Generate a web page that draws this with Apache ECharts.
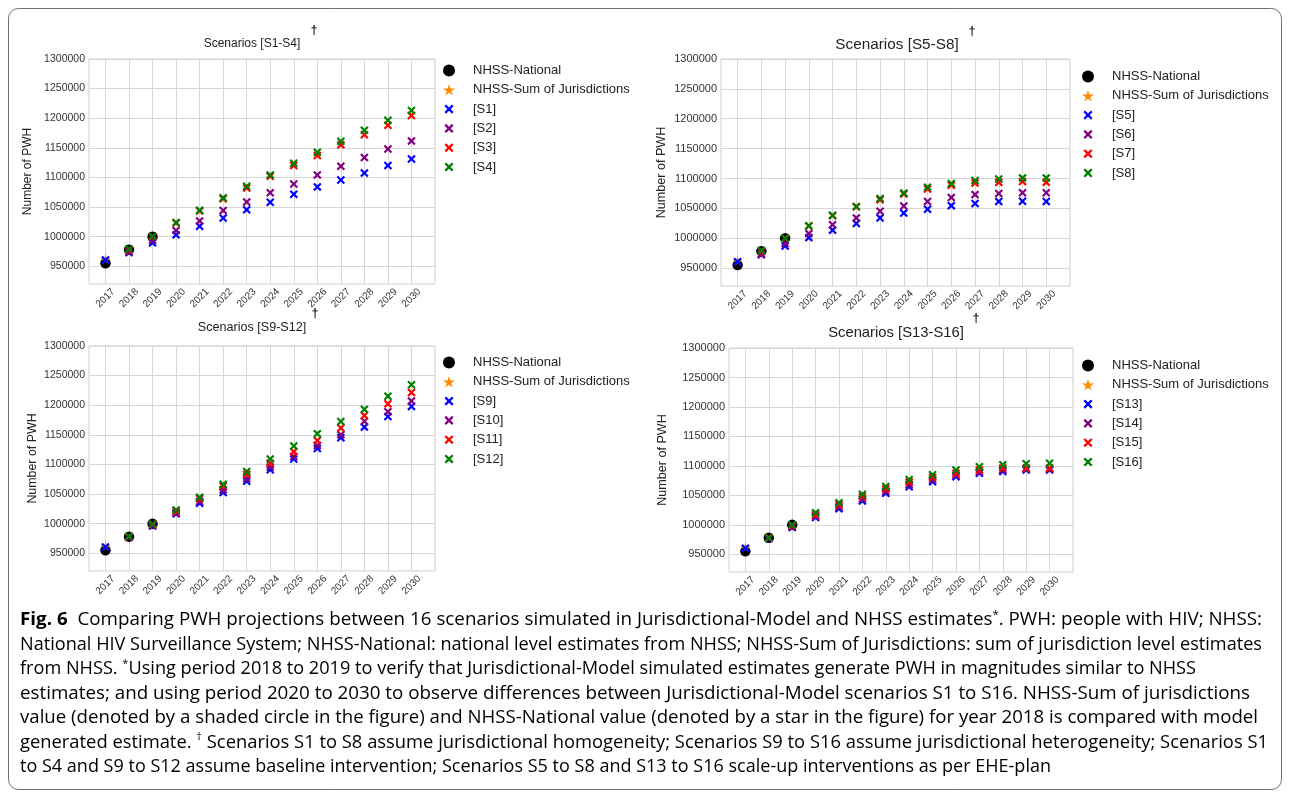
<!DOCTYPE html>
<html>
<head>
<meta charset="utf-8">
<script src="https://cdn.jsdelivr.net/npm/echarts@6/dist/echarts.min.js"></script>
<style>
  html, body { margin: 0; padding: 0; background: #fff; }
  #chart { width: 1290px; height: 797px; }
</style>
</head>
<body>
<div id="chart"></div>
<script>
// ---- data ----
const years = [2017, 2018, 2019, 2020, 2021, 2022, 2023, 2024, 2025, 2026, 2027, 2028, 2029, 2030];
const yTicks = [950000, 1000000, 1050000, 1100000, 1150000, 1200000, 1250000, 1300000];

// NHSS estimates (2017-2019 national, 2017 sum of jurisdictions)
const nhssNationalYears = [2017, 2018, 2019];
const nhssNational = [955000, 978000, 1000000];
const nhssSumYears = [2017];
const nhssSum = [962000];

// Jurisdictional-Model scenarios, 2017-2030 (null = not simulated for that year)
const s1 = [960500, 973000, 989500, 1003000, 1017500, 1031500, 1045500, 1058000, 1071500, 1084000, 1095500, 1107500, 1120000, 1131000];
const s2 = [null, 973500, 994000, 1010500, 1026500, 1044000, 1058500, 1074000, 1089000, 1104000, 1119000, 1133500, 1148000, 1161500];
const s3 = [null, 978000, 1000000, 1023000, 1043500, 1064000, 1082000, 1102000, 1120000, 1137000, 1155000, 1172000, 1188000, 1204500];
const s4 = [null, 979000, 1000500, 1024000, 1044500, 1065500, 1085000, 1104000, 1124000, 1142500, 1161000, 1179500, 1196500, 1213000];

const s5 = [960500, 972500, 987000, 1001000, 1013500, 1024500, 1034000, 1042000, 1048500, 1054500, 1058000, 1061500, 1062000, 1061500];
const s6 = [null, 973000, 991000, 1008000, 1022500, 1034000, 1045000, 1054000, 1061500, 1068000, 1073000, 1075000, 1076000, 1076000];
const s7 = [null, 978000, 999500, 1020500, 1037500, 1052500, 1064500, 1074000, 1082500, 1088500, 1092500, 1093500, 1095000, 1093500];
const s8 = [null, 979500, 1000000, 1021000, 1038500, 1053000, 1066500, 1075500, 1085500, 1091500, 1096500, 1099000, 1101000, 1101000];

const s9  = [960500, 977000, 996000, 1016500, 1034500, 1052500, 1071500, 1091000, 1109000, 1127000, 1145000, 1163000, 1181000, 1198000];
const s10 = [null, 977500, 997000, 1017500, 1037500, 1057000, 1076000, 1095500, 1113500, 1132000, 1150000, 1173000, 1189000, 1207000];
const s11 = [null, 978000, 999000, 1020500, 1042500, 1063500, 1083000, 1102000, 1121500, 1140500, 1161500, 1182500, 1202500, 1221500];
const s12 = [null, 978500, 999500, 1023000, 1044500, 1066500, 1088000, 1109000, 1131000, 1152000, 1172500, 1193000, 1215000, 1234500];

const s13 = [960500, 977000, 995500, 1012500, 1027500, 1040500, 1053500, 1064500, 1073000, 1081500, 1087500, 1090500, 1093000, 1093000];
const s14 = [null, 977500, 996500, 1014500, 1030500, 1044000, 1057000, 1068500, 1076500, 1084000, 1089500, 1093000, 1094500, 1094500];
const s15 = [null, 978000, 999000, 1017000, 1034000, 1048000, 1061000, 1072500, 1080500, 1087500, 1093000, 1096500, 1096500, 1096500];
const s16 = [null, 978000, 1000000, 1020500, 1037500, 1052000, 1065000, 1077000, 1085000, 1093000, 1098500, 1102000, 1103500, 1104500];

const panelTitles = ['Scenarios [S1-S4]', 'Scenarios [S5-S8]', 'Scenarios [S9-S12]', 'Scenarios [S13-S16]'];
const scenarioNames = [
  ['[S1]', '[S2]', '[S3]', '[S4]'],
  ['[S5]', '[S6]', '[S7]', '[S8]'],
  ['[S9]', '[S10]', '[S11]', '[S12]'],
  ['[S13]', '[S14]', '[S15]', '[S16]']
];
const scenarioValues = [[s1, s2, s3, s4], [s5, s6, s7, s8], [s9, s10, s11, s12], [s13, s14, s15, s16]];

const captionLines = [
  [['b', 'Fig. 6'], ['r', '  Comparing PWH projections between 16 scenarios simulated in Jurisdictional-Model and NHSS estimates'], ['s', '*'], ['r', '. PWH: people with HIV; NHSS:']],
  [['r', 'National HIV Surveillance System; NHSS-National: national level estimates from NHSS; NHSS-Sum of Jurisdictions: sum of jurisdiction level estimates']],
  [['r', 'from NHSS. '], ['s', '*'], ['r', 'Using period 2018 to 2019 to verify that Jurisdictional-Model simulated estimates generate PWH in magnitudes similar to NHSS']],
  [['r', 'estimates; and using period 2020 to 2030 to observe differences between Jurisdictional-Model scenarios S1 to S16. NHSS-Sum of jurisdictions']],
  [['r', 'value (denoted by a shaded circle in the figure) and NHSS-National value (denoted by a star in the figure) for year 2018 is compared with model']],
  [['r', 'generated estimate. '], ['s', '\u2020'], ['r', ' Scenarios S1 to S8 assume jurisdictional homogeneity; Scenarios S9 to S16 assume jurisdictional heterogeneity; Scenarios S1']],
  [['r', 'to S4 and S9 to S12 assume baseline intervention; Scenarios S5 to S8 and S13 to S16 scale-up interventions as per EHE-plan']]
];

// ---- styling / layout ----
const SCEN_COLORS = ['#0000ff', '#800080', '#ff0000', '#008000'];
const X_PATH = 'path://M0,1.8 L1.8,0 L5,3.2 L8.2,0 L10,1.8 L6.8,5 L10,8.2 L8.2,10 L5,6.8 L1.8,10 L0,8.2 L3.2,5 Z';
// same cross with an empty margin so the legend icon comes out smaller than the box
const X_PATH_LEGEND = 'path://M-1.6,-1.6 L-1.6,-1.6 M11.6,11.6 L11.6,11.6 M0,1.8 L1.8,0 L5,3.2 L8.2,0 L10,1.8 L6.8,5 L10,8.2 L8.2,10 L5,6.8 L1.8,10 L0,8.2 L3.2,5 Z';
const STAR_PATH = 'path://M50,0 L61.23,34.55 L97.55,34.55 L68.17,55.9 L79.39,90.45 L50,69.1 L20.61,90.45 L31.83,55.9 L2.45,34.55 L38.77,34.55 Z';
const FONT = '"Liberation Sans", Arial, sans-serif';

const panels = [
  { grid: { left: 89, top: 59, width: 346, height: 225 }, nameGap: 55, tickFont: 10.5, nameFont: 12,
    title: { x: 252, y: 44, size: 12 }, dagger: { x: 314, y: 31 }, legend: { left: 443, top: 63 } },
  { grid: { left: 721, top: 59, width: 349, height: 227 }, nameGap: 53, tickFont: 11, nameFont: 12.6,
    title: { x: 897, y: 45, size: 15.3 }, dagger: { x: 972, y: 32 }, legend: { left: 1082, top: 69 } },
  { grid: { left: 89, top: 346, width: 346, height: 225 }, nameGap: 50, tickFont: 10.5, nameFont: 12.4,
    title: { x: 252, y: 328, size: 12.6 }, dagger: { x: 315, y: 314 }, legend: { left: 443, top: 355 } },
  { grid: { left: 729, top: 348, width: 344, height: 224 }, nameGap: 60, tickFont: 11, nameFont: 12.6,
    title: { x: 896, y: 333, size: 14.8 }, dagger: { x: 976, y: 319 }, legend: { left: 1082, top: 358 } }
];

function pairs(xs, ys) {
  const out = [];
  for (let i = 0; i < xs.length; i++) if (ys[i] != null) out.push([xs[i], ys[i]]);
  return out;
}

const grids = [], xAxes = [], yAxes = [], series = [], legends = [], graphics = [];

panels.forEach((p, i) => {
  grids.push(Object.assign({ show: true, borderColor: '#cfcfcf', borderWidth: 1, backgroundColor: '#fff' }, p.grid));

  xAxes.push({
    type: 'value', gridIndex: i, min: 2016.3, max: 2031,
    axisLine: { show: false },
    axisTick: { show: false, customValues: years },
    axisLabel: {
      customValues: years, rotate: 45, fontSize: 10, color: '#333', fontFamily: FONT,
      align: 'center', verticalAlign: 'middle', margin: 14, formatter: v => String(v)
    },
    splitLine: { show: true, lineStyle: { color: '#d7d7d7', width: 1 } }
  });

  yAxes.push({
    type: 'value', gridIndex: i, min: 920000, max: 1300000,
    name: 'Number of PWH', nameLocation: 'middle', nameGap: p.nameGap,
    nameTextStyle: { fontSize: p.nameFont, color: '#222', fontFamily: FONT },
    axisLine: { show: false },
    axisTick: { show: false, customValues: yTicks },
    axisLabel: { customValues: yTicks, fontSize: p.tickFont, color: '#333', fontFamily: FONT, margin: 4, formatter: v => String(v) },
    splitLine: { show: true, lineStyle: { color: '#d7d7d7', width: 1 } }
  });

  series.push({
    name: 'NHSS-National', type: 'scatter', xAxisIndex: i, yAxisIndex: i,
    symbol: 'circle', symbolSize: 10.5, itemStyle: { color: '#000', opacity: 1 },
    data: pairs(nhssNationalYears, nhssNational)
  });
  series.push({
    name: 'NHSS-Sum of Jurisdictions', type: 'scatter', xAxisIndex: i, yAxisIndex: i,
    symbol: STAR_PATH, symbolSize: 10, itemStyle: { color: '#ff8c00', opacity: 1 },
    data: pairs(nhssSumYears, nhssSum)
  });
  scenarioNames[i].forEach((nm, k) => {
    series.push({
      name: nm, type: 'scatter', xAxisIndex: i, yAxisIndex: i,
      symbol: X_PATH, symbolSize: 8.5, itemStyle: { color: SCEN_COLORS[k], opacity: 1 },
      data: pairs(years, scenarioValues[i][k])
    });
  });

  legends.push({
    orient: 'vertical', left: p.legend.left, top: p.legend.top,
    itemWidth: 12, itemHeight: 12, itemGap: 4.3, padding: 0,
    textStyle: { fontSize: 13, color: '#222', fontFamily: FONT, lineHeight: 15, padding: [0, 0, 0, 13] },
    data: [
      { name: 'NHSS-National', icon: 'circle', itemStyle: { opacity: 1 } },
      { name: 'NHSS-Sum of Jurisdictions', icon: STAR_PATH, itemStyle: { opacity: 1 } },
      ...scenarioNames[i].map(nm => ({ name: nm, icon: X_PATH_LEGEND, itemStyle: { opacity: 1 } }))
    ]
  });

  graphics.push({
    type: 'text', x: p.title.x, y: p.title.y, silent: true,
    style: { text: panelTitles[i], fontSize: p.title.size, fontFamily: FONT, fill: '#222', align: 'center', verticalAlign: 'middle' }
  });
  graphics.push({
    type: 'text', x: p.dagger.x, y: p.dagger.y, silent: true,
    style: { text: '\u2020', fontSize: 12, fontWeight: 'bold', fontFamily: FONT, fill: '#111', align: 'center', verticalAlign: 'middle' }
  });
});

// ---- caption ----
const CAP_FAMILY = '"Open Sans", "Noto Sans", sans-serif';
const capStyles = {
  b: { fontSize: 18, fontWeight: 'bold' },
  r: { fontSize: 18, fontWeight: 'normal' },
  s: { fontSize: 11, fontWeight: 'normal' }
};
const capEnds = [1262, 1262, 1196, 1250, 1258, 1268, 1051];
const capTops = [620, 644.5, 669, 693.5, 718, 742.5, 767];
const capLeft = 20;
const measureCtx = document.createElement('canvas').getContext('2d');
function measureLine(tokens) {
  let w = 0;
  tokens.forEach(([st, txt]) => {
    const s = capStyles[st];
    measureCtx.font = s.fontWeight + ' ' + s.fontSize + 'px ' + CAP_FAMILY;
    w += measureCtx.measureText(txt).width;
  });
  return w;
}
captionLines.forEach((tokens, li) => {
  const w = measureLine(tokens);
  const sx = (capEnds[li] - capLeft) / w;
  graphics.push({
    type: 'text', x: capLeft, y: capTops[li], scaleX: sx, originX: 0, originY: 0, silent: true,
    style: {
      text: tokens.map(([st, txt]) => '{' + st + '|' + txt + '}').join(''),
      verticalAlign: 'middle', align: 'left',
      rich: {
        b: { fontSize: 18, fontWeight: 'bold', color: '#111', fontFamily: CAP_FAMILY, lineHeight: 22 },
        r: { fontSize: 18, color: '#231f20', fontFamily: CAP_FAMILY, lineHeight: 22 },
        s: { fontSize: 11, color: '#231f20', fontFamily: CAP_FAMILY, lineHeight: 22, verticalAlign: 'top' }
      }
    }
  });
});

// figure frame
graphics.unshift({
  type: 'rect', silent: true, z: -10,
  shape: { x: 8.5, y: 8.5, width: 1273, height: 781, r: 10 },
  style: { fill: 'none', stroke: '#6d6e71', lineWidth: 1 }
});

const chart = echarts.init(document.getElementById('chart'), null, { renderer: 'canvas' });
chart.setOption({
  animation: false,
  backgroundColor: '#fff',
  textStyle: { fontFamily: FONT },
  grid: grids,
  xAxis: xAxes,
  yAxis: yAxes,
  legend: legends,
  series: series,
  graphic: graphics
});
</script>
</body>
</html>
